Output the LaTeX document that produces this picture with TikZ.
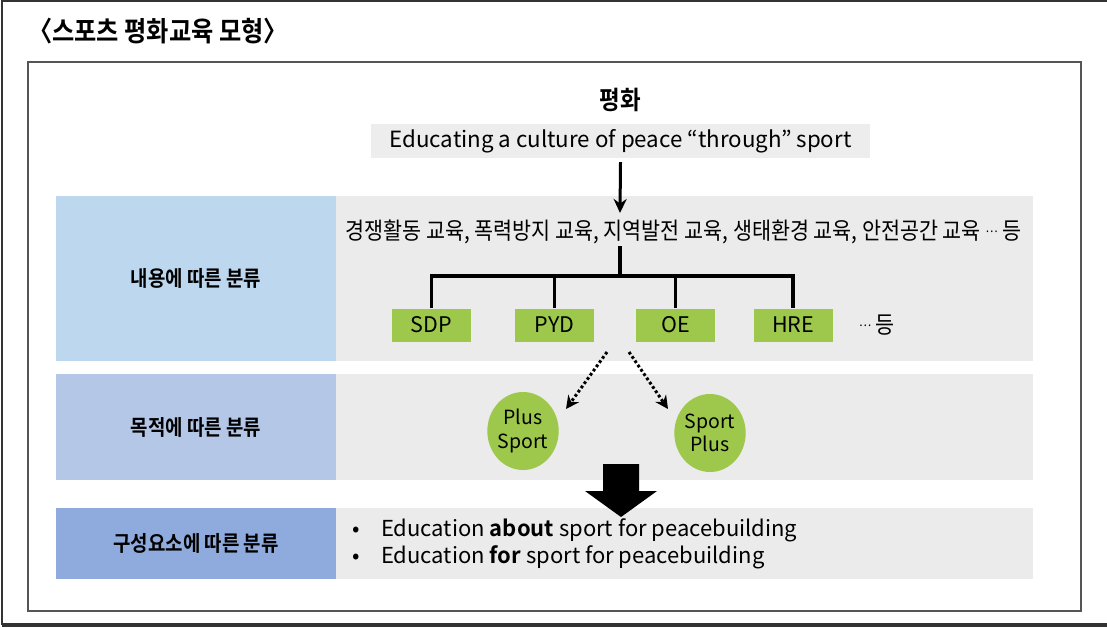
\documentclass[tikz,border=0pt]{standalone}
\usepackage{fontspec}
\setmainfont{Noto Sans CJK KR}[BoldFont={Noto Sans CJK KR Bold}]
\newfontfamily\kr{Noto Sans CJK KR}[FakeStretch=0.88, BoldFont={Noto Sans CJK KR Bold}]
\usetikzlibrary{arrows.meta,shapes.geometric}
\definecolor{rowblueA}{HTML}{BDD7EE}
\definecolor{rowblueB}{HTML}{B4C7E7}
\definecolor{rowblueC}{HTML}{8FAADC}
\definecolor{rowgray}{HTML}{EBEBEB}
\definecolor{headgray}{HTML}{EDEDED}
\definecolor{leafgreen}{HTML}{9DC84B}
\definecolor{framegray}{HTML}{333333}
\definecolor{innergray}{HTML}{555555}
\newcommand{\fs}[1]{\fontsize{#1}{#1}\selectfont}
\newcommand{\fsl}[2]{\fontsize{#1}{#2}\selectfont}
\newcommand{\midots}{\raisebox{0.3em}{\fs{13}…}}
\tikzset{
  rowlabel/.style={inner sep=0, minimum width=280pt, font=\kr\fs{21.5}\bfseries, text=black},
  rowbody/.style={inner sep=0, minimum width=697pt, fill=rowgray},
  leaf/.style={fill=leafgreen, inner sep=0, minimum width=79pt, minimum height=33pt, font=\fs{21.5}},
  goal/.style={ellipse, fill=leafgreen, inner sep=0, minimum width=70pt, minimum height=78pt, align=center, font=\fsl{19.5}{23.5}},
  treeline/.style={line width=3.5pt},
  mainarrow/.style={line width=3pt, -{Stealth[length=14pt,width=13pt]}},
  dotarrow/.style={line width=3pt, dash pattern=on 2.8pt off 2.4pt, -{Stealth[length=13pt,width=13pt]}}
}
\begin{document}
\begin{tikzpicture}[x=1pt,y=-1pt]
\useasboundingbox (0,0) rectangle (1107,627);
% outer frame
\draw[framegray, line width=2pt] (1110,1) -- (2,1) -- (2,624) -- (1110,624);
\draw[framegray, line width=3pt] (2,625) -- (1110,625);
% inner frame
\draw[innergray, line width=1.3pt] (28,62) rectangle (1081,611);
% title
\node[anchor=west, inner sep=0, font=\kr\fs{27.5}\bfseries] (title) at (28,31) {〈스포츠 평화교육 모형〉};
% top
\node[inner sep=0, font=\kr\fs{25.5}\bfseries] (peace) at (620,100) {평화};
\node[fill=headgray, inner sep=0, minimum width=499pt, minimum height=34pt, font=\fs{22.3}] (through) at (620.5,141) {Educating a culture of peace “through” sport};
% rows
\node[rowlabel, fill=rowblueA, minimum height=165pt] (row1) at (196,278.5) {내용에 따른 분류};
\node[rowbody, minimum height=165pt] (body1) at (684.5,278.5) {};
\node[rowlabel, fill=rowblueB, minimum height=106pt] (row2) at (196,427) {목적에 따른 분류};
\node[rowbody, minimum height=106pt] (body2) at (684.5,427) {};
\node[rowlabel, fill=rowblueC, minimum height=71pt] (row3) at (196,543.5) {구성요소에 따른 분류};
\node[rowbody, minimum height=71pt] (body3) at (684.5,543.5) {};
% content list
\node[inner sep=0, font=\kr\fs{23.5}] (list) at (683.5,232) {경쟁활동 교육, 폭력방지 교육, 지역발전 교육, 생태환경 교육, 안전공간 교육 \midots\ 등};
\coordinate (tip1) at (620,213);
\draw[mainarrow] ([yshift=-4pt]through.south) -- (tip1);
% tree
\coordinate (hub) at (620,276);
\node[leaf] (sdp) at (431.5,325) {SDP};
\node[leaf] (pyd) at (554.5,325) {PYD};
\node[leaf] (oe) at (675.5,325) {OE};
\node[leaf] (hre) at (793,325) {HRE};
\node[inner sep=0, font=\kr\fs{23.5}] (etc) at (877,325) {\midots\ 등};
\draw[treeline] (620,246) -- (hub);
\draw[treeline] (sdp.north) |- (hub) -| (hre.north);
\draw[treeline] (pyd.north) -- (pyd.north |- hub);
\draw[treeline] (oe.north) -- (oe.north |- hub);
% goals
\node[goal] (plus) at (523,431) {Plus\\Sport};
\node[goal] (sportplus) at (710,433) {Sport\\Plus};
\coordinate (d1) at (607,352);
\coordinate (d2) at (629,352);
\coordinate (e1) at (566,409);
\coordinate (e2) at (668,409);
\draw[dotarrow] (d1) -- (e1);
\draw[dotarrow] (d2) -- (e2);
% big arrow
\fill[black] (603,464) -- (639,464) -- (639,491) -- (657,491) -- (621,517) -- (585,491) -- (603,491) -- cycle;
% bullets
\node[anchor=west, inner sep=0, align=left, font=\fsl{22}{27}] (bul) at (352,543.5)
  {\makebox[29pt][l]{•}Education \textbf{about} sport for peacebuilding\\
   \makebox[29pt][l]{•}Education \textbf{for} sport for peacebuilding};
\end{tikzpicture}
\end{document}
